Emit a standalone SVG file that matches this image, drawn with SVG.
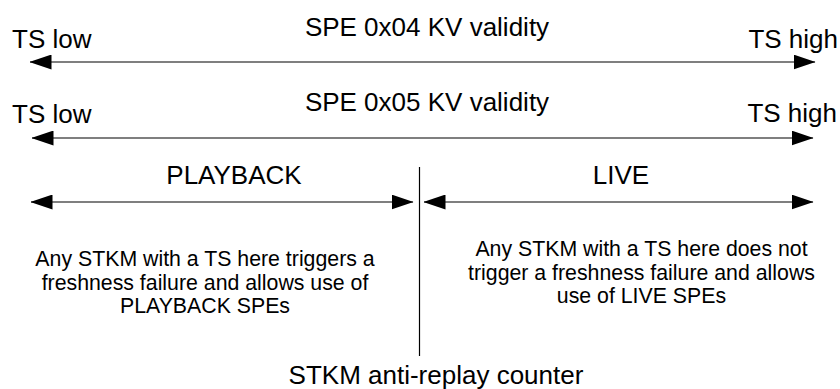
<svg xmlns="http://www.w3.org/2000/svg" width="840" height="389" viewBox="0 0 840 389">
<style>
text{font-family:"Liberation Sans",Arial,sans-serif;fill:#000}
.big{font-size:26px}
.small{font-size:21.3px;text-anchor:middle}
.mid{text-anchor:middle}
.end{text-anchor:end}
.conn line{stroke:#000;stroke-width:1.2;fill:none}
.arr{marker-start:url(#ah);marker-end:url(#ah)}
</style>
<defs>
<marker id="ah" markerUnits="userSpaceOnUse" markerWidth="22" markerHeight="15" viewBox="0 0 22 15" refX="21.5" refY="7.5" orient="auto-start-reverse">
<path d="M0,0 L22,7.5 L0,15 z" fill="#000"/>
</marker>
</defs>
<rect width="840" height="389" fill="#fff"/>
<g id="row1">
<text class="big mid" x="427" y="36">SPE 0x04 KV validity</text>
<text class="big" x="12" y="48">TS low</text>
<text class="big end" x="838" y="48">TS high</text>
</g>
<g id="row2">
<text class="big mid" x="427" y="111">SPE 0x05 KV validity</text>
<text class="big" x="12" y="123">TS low</text>
<text class="big end" x="837" y="122">TS high</text>
</g>
<g id="playback">
<text class="big mid" x="234" y="184">PLAYBACK</text>
<text class="small" x="205" y="266">Any STKM with a TS here triggers a</text>
<text class="small" x="205" y="289.5">freshness failure and allows use of</text>
<text class="small" x="205" y="313">PLAYBACK SPEs</text>
</g>
<g id="live">
<text class="big mid" x="621" y="184">LIVE</text>
<text class="small" x="641.5" y="256">Any STKM with a TS here does not</text>
<text class="small" x="641.5" y="279.5">trigger a freshness failure and allows</text>
<text class="small" x="641.5" y="303">use of LIVE SPEs</text>
</g>
<g id="counter">
<text class="big mid" x="436" y="384">STKM anti-replay counter</text>
</g>
<g id="connectors" class="conn">
<line class="arr" x1="30" y1="62" x2="815" y2="62"/>
<line class="arr" x1="32" y1="138" x2="813" y2="138"/>
<line class="arr" x1="31" y1="202" x2="413" y2="202"/>
<line class="arr" x1="424" y1="202" x2="813" y2="202"/>
<line x1="419.5" y1="167" x2="419.5" y2="356"/>
</g>
</svg>
